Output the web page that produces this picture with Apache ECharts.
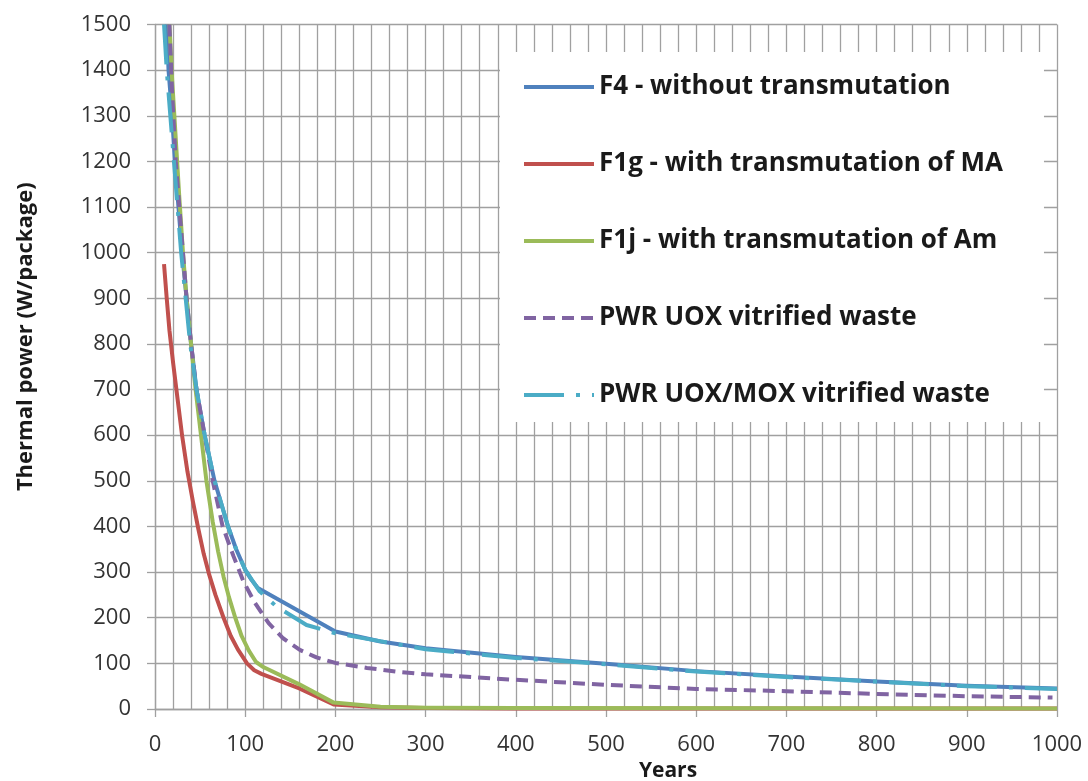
<!DOCTYPE html>
<html>
<head>
<meta charset="utf-8">
<script src="https://cdn.jsdelivr.net/npm/echarts@6/dist/echarts.min.js"></script>
<style>
html,body{margin:0;padding:0;background:#fff;}
#chart{width:1088px;height:781px;}
</style>
</head>
<body>
<div id="chart"></div>
<script>
// Tick settings
const xTicks = [0, 1000, 100];   // min, max, interval
const yTicks = [0, 1500, 100];

// Series names
const seriesNames = [
  'F4 - without transmutation',
  'F1g - with transmutation of MA',
  'F1j - with transmutation of Am',
  'PWR UOX vitrified waste',
  'PWR UOX/MOX vitrified waste'
];

// F4 - without transmutation
const f4Years  = [13, 15, 19, 22, 26, 30, 35, 40, 46, 55, 66, 81, 90, 100, 107, 114, 200, 250, 300, 400, 500, 600, 700, 800, 900, 1000];
const f4Values = [1500, 1400, 1300, 1200, 1100, 1000, 900, 800, 700, 600, 500, 400, 350, 305, 283, 265, 170, 148, 133, 114, 99, 83, 71, 60, 51, 45];

// F1g - with transmutation of MA
const f1gYears  = [10, 13, 16, 20, 25, 30, 36, 42, 48, 54, 60, 67, 76, 84, 92, 102, 110, 118, 160, 198, 250, 300, 400, 1000];
const f1gValues = [975, 900, 830, 760, 680, 600, 520, 455, 395, 340, 295, 250, 200, 160, 130, 100, 85, 77, 45, 10, 4, 2, 1, 1];

// F1j - with transmutation of Am
const f1jYears  = [16, 19, 23, 27, 31, 35, 40, 45, 51, 57, 64, 70, 76, 82, 89, 96, 104, 112, 120, 160, 198, 250, 300, 400, 1000];
const f1jValues = [1500, 1380, 1250, 1120, 1000, 900, 800, 700, 600, 500, 410, 345, 290, 245, 200, 160, 128, 103, 92, 54, 14, 5, 3, 2, 1];

// PWR UOX vitrified waste
const uoxYears  = [16, 19, 23, 27, 31, 35, 40, 46, 55, 64, 75, 87, 98, 110, 126, 142, 161, 179, 200, 235, 272, 300, 400, 500, 600, 700, 800, 900, 995];
const uoxValues = [1500, 1350, 1200, 1100, 1000, 900, 800, 700, 600, 500, 400, 335, 280, 235, 188, 155, 129, 113, 101, 90, 81, 76, 64, 53, 44, 39, 33, 28, 25];

// PWR UOX/MOX vitrified waste
const moxYears  = [10, 13, 17, 21, 25, 29, 34, 39, 46, 55, 66, 81, 90, 100, 116, 135, 168, 200, 300, 400, 500, 600, 700, 800, 900, 1000];
const moxValues = [1500, 1400, 1300, 1200, 1100, 1000, 900, 800, 700, 600, 500, 400, 350, 305, 258, 224, 184, 166, 131, 112, 98, 82, 70, 60, 50, 44];

const pairs = (xs, ys) => xs.map((x, i) => [x, ys[i]]);

const gridColor = '#a0a0a0';
const font = '"Open Sans", "Noto Sans", sans-serif';

const chart = echarts.init(document.getElementById('chart'), null, {renderer: 'canvas'});

const lineSeries = (idx, xs, ys, color, type) => ({
  name: seriesNames[idx], type: 'line', data: pairs(xs, ys),
  symbol: 'none',
  lineStyle: {color: color, width: 4, type: type || 'solid', join: 'round', cap: 'butt'},
  itemStyle: {color: color}
});

chart.setOption({
  backgroundColor: '#ffffff',
  animation: false,
  grid: {left: 155, right: 31, top: 24.5, bottom: 72, containLabel: false, outerBoundsMode: 'none'},
  xAxis: {
    type: 'value',
    min: xTicks[0], max: xTicks[1], interval: xTicks[2],
    name: 'Years',
    nameLocation: 'middle',
    nameGap: 52,
    nameTextStyle: {fontFamily: font, fontWeight: 'bold', fontSize: 21, color: '#1a1a1a', padding: [0, 0, 0, 124]},
    axisLine: {show: true, lineStyle: {color: gridColor, width: 1.3}},
    axisTick: {show: true, length: 8, lineStyle: {color: gridColor, width: 1.3}},
    minorTick: {show: false, splitNumber: 5},
    splitLine: {show: true, lineStyle: {color: gridColor, width: 1.3}},
    minorSplitLine: {show: true, lineStyle: {color: gridColor, width: 1.3}},
    axisLabel: {fontFamily: font, fontSize: 22, color: '#333', margin: 25, formatter: v => String(v)}
  },
  yAxis: {
    type: 'value',
    min: yTicks[0], max: yTicks[1], interval: yTicks[2],
    name: 'Thermal power (W/package)',
    nameLocation: 'middle',
    nameGap: 118,
    nameRotate: 90,
    nameTextStyle: {fontFamily: font, fontWeight: 'bold', fontSize: 22, color: '#1a1a1a', padding: [0, 0, 0, 60]},
    axisLine: {show: true, lineStyle: {color: gridColor, width: 1.3}},
    axisTick: {show: true, length: 8, lineStyle: {color: gridColor, width: 1.3}},
    splitLine: {show: true, lineStyle: {color: gridColor, width: 1.3}},
    axisLabel: {fontFamily: font, fontSize: 22, color: '#333', margin: 24, formatter: v => String(v)}
  },
  legend: {
    orient: 'vertical',
    left: 500,
    top: 52,
    padding: [20, 41, 12, 22],
    backgroundColor: '#ffffff',
    itemWidth: 70,
    itemHeight: 14,
    itemGap: 47,
    itemStyle: {opacity: 0},
    lineStyle: {width: 4},
    textStyle: {fontFamily: font, fontWeight: 'bold', fontSize: 26, color: '#1a1a1a', lineHeight: 30},
    data: seriesNames
  },
  series: [
    lineSeries(0, f4Years, f4Values, '#4F81BD'),
    lineSeries(1, f1gYears, f1gValues, '#C0504D'),
    lineSeries(2, f1jYears, f1jValues, '#9BBB59'),
    lineSeries(3, uoxYears, uoxValues, '#8064A2', [12, 7]),
    lineSeries(4, moxYears, moxValues, '#4BACC6', [40, 12, 4, 12])
  ]
});
</script>
</body>
</html>
